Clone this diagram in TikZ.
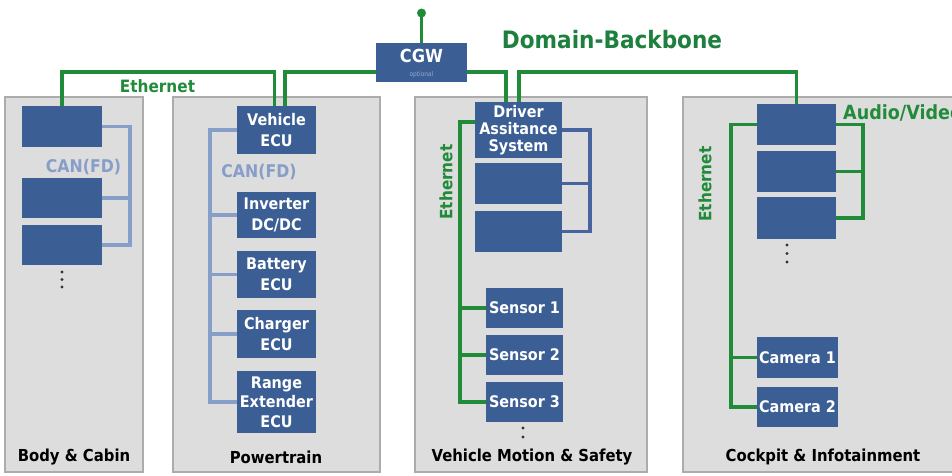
\documentclass[tikz,border=0pt]{standalone}
\usepackage{fontspec}
\setmainfont[FakeStretch=0.9]{DejaVu Sans}
\definecolor{ecublue}{RGB}{59,94,149}
\definecolor{ethgreen}{RGB}{34,139,58}
\definecolor{bbgreen}{RGB}{30,128,62}
\definecolor{canblue}{RGB}{135,158,200}
\definecolor{panelgray}{RGB}{221,221,221}
\definecolor{panelborder}{RGB}{172,172,172}
\definecolor{busblue}{RGB}{72,100,158}
\definecolor{optgray}{RGB}{150,170,205}
\begin{document}
\begin{tikzpicture}[x=1pt,y=-1pt,
  panel/.style={fill=panelgray, draw=panelborder, line width=1.2pt},
  ecu/.style={fill=ecublue, draw=none, inner sep=0pt, text=white,
    font=\fontsize{16}{20.5}\selectfont\bfseries, align=center},
  eth/.style={draw=ethgreen, line width=3.1pt},
  can/.style={draw=canblue, line width=3.1pt},
  bus/.style={draw=busblue, line width=3.1pt},
  plabel/.style={font=\fontsize{16.5}{19}\selectfont\bfseries, text=black, inner sep=0pt},
  glabel/.style={font=\fontsize{17}{20}\selectfont\bfseries, text=ethgreen, inner sep=0pt},
  clabel/.style={font=\fontsize{17.5}{20}\selectfont\bfseries, text=canblue, inner sep=0pt},
  dotmark/.style={fill=black!80}]
\path[use as bounding box, clip] (0,0) rectangle (952,475);
\fill[white] (0,0) rectangle (952,475);

% panels
\draw[panel] (5,97) rectangle (143,472);
\draw[panel] (173,97) rectangle (380,472);
\draw[panel] (415,97) rectangle (647,472);
\draw[panel] (683,97) rectangle (965,472);

\node[plabel] (l1) at (74,457) {Body \& Cabin};
\node[plabel] (l2) at (276,457) {Powertrain};
\node[plabel] (l3) at (532,457) {Vehicle Motion \& Safety};
\node[plabel] (l4) at (823,457) {Cockpit \& Infotainment};

% CGW and backbone
\coordinate (pin) at (421.5,13);
\coordinate (bb) at (0,72);
\node[ecu, minimum width=91pt, minimum height=39pt] (cgw) at (421.5,62.5) {};
\node[font=\fontsize{18}{20}\selectfont\bfseries, text=white, inner sep=0pt] (cgwt) at (421.5,56) {CGW};
\node[font=\fontsize{6.5}{8}\selectfont, text=optgray, inner sep=0pt] (cgwo) at (421.5,75) {optional};
\draw[eth] (cgw.north) -- (pin);
\fill[ethgreen] (pin) circle (4.5pt);
\node[font=\fontsize{24}{28}\selectfont\bfseries, text=bbgreen, inner sep=0pt] (dbb) at (612,40) {Domain-Backbone};

% Body & Cabin
\node[ecu, minimum width=80pt, minimum height=41pt] (b1) at (62,126.5) {};
\node[ecu, minimum width=80pt, minimum height=40pt] (b2) at (62,198) {};
\node[ecu, minimum width=80pt, minimum height=40pt] (b3) at (62,245) {};
\coordinate (cb1) at (130,0);
\draw[can] (b1.east) -| (b3.east -| cb1) -- (b3.east);
\draw[can] (b2.east) -- (b2.east -| cb1);
\node[clabel] (can1) at (83.5,167) {CAN(FD)};
\foreach \yy in {272,279.5,287} \fill[dotmark] (62,\yy) circle (1.7pt);

% Powertrain
\node[ecu, minimum width=79pt, minimum height=48pt] (vecu) at (276.5,130) {Vehicle\\ECU};
\node[ecu, minimum width=79pt, minimum height=46pt] (inv) at (276.5,215) {Inverter\\DC/DC};
\node[ecu, minimum width=79pt, minimum height=47pt] (bat) at (276.5,274.5) {Battery\\ECU};
\node[ecu, minimum width=79pt, minimum height=48pt] (chg) at (276.5,334) {Charger\\ECU};
\node[ecu, minimum width=79pt, minimum height=62pt, font=\fontsize{16}{19.5}\selectfont\bfseries] (rex) at (276.5,402) {Range\\Extender\\ECU};
\coordinate (cb2) at (210,0);
\draw[can] (vecu.west) -| (rex.west -| cb2) -- (rex.west);
\draw[can] (inv.west) -- (inv.west -| cb2);
\draw[can] (bat.west) -- (bat.west -| cb2);
\draw[can] (chg.west) -- (chg.west -| cb2);
\node[clabel] (can2) at (259,172) {CAN(FD)};

% Ethernet top
\draw[eth] (b1.north) -- (b1.north |- bb) -| ([xshift=-2pt]vecu.north);
\draw[eth] ([xshift=8.5pt]vecu.north) |- ([yshift=-9.5pt]cgw.west);
\node[glabel] (ethtop) at (157.5,86) {Ethernet};

% Vehicle Motion & Safety
\node[ecu, minimum width=87pt, minimum height=56pt, font=\fontsize{16}{17}\selectfont\bfseries] (das) at (518.5,130) {Driver\\Assitance\\System};
\node[ecu, minimum width=87pt, minimum height=41pt] (v2) at (518.5,183.5) {};
\node[ecu, minimum width=87pt, minimum height=41pt] (v3) at (518.5,231.5) {};
\coordinate (cb3) at (590,0);
\draw[bus] (das.east) -| (v3.east -| cb3) -- (v3.east);
\draw[bus] (v2.east) -- (v2.east -| cb3);
\node[ecu, minimum width=77pt, minimum height=40pt] (s1) at (524.5,308) {Sensor 1};
\node[ecu, minimum width=77pt, minimum height=40pt] (s2) at (524.5,355) {Sensor 2};
\node[ecu, minimum width=77pt, minimum height=40pt] (s3) at (524.5,402) {Sensor 3};
\coordinate (ce3) at (460,0);
\draw[eth] ([yshift=8pt]das.west) -| (s3.west -| ce3) -- (s3.west);
\draw[eth] (s1.west) -- (s1.west -| ce3);
\draw[eth] (s2.west) -- (s2.west -| ce3);
\node[glabel, rotate=90] (eth3) at (446,182) {Ethernet};
\foreach \yy in {428,437} \fill[dotmark] (523,\yy) circle (1.7pt);

% Cockpit
\node[ecu, minimum width=79pt, minimum height=41pt] (c1) at (796.5,124.5) {};
\node[ecu, minimum width=79pt, minimum height=41pt] (c2) at (796.5,171.5) {};
\node[ecu, minimum width=79pt, minimum height=42pt] (c3) at (796.5,218) {};
\coordinate (cb4) at (863,0);
\draw[eth] (c1.east) -| (c3.east -| cb4) -- (c3.east);
\draw[eth] (c2.east) -- (c2.east -| cb4);
\node[glabel, anchor=west, font=\fontsize{19.5}{22}\selectfont\bfseries] (av) at (843,113) {Audio/Video};
\foreach \yy in {245,253.5,262} \fill[dotmark] (787,\yy) circle (1.7pt);
\node[ecu, minimum width=81pt, minimum height=41pt] (cam1) at (797.5,357.5) {Camera 1};
\node[ecu, minimum width=81pt, minimum height=40pt] (cam2) at (797.5,407) {Camera 2};
\coordinate (ce4) at (731,0);
\draw[eth] (c1.west) -| (cam2.west -| ce4) -- (cam2.west);
\draw[eth] (cam1.west) -- (cam1.west -| ce4);
\node[glabel, rotate=90] (eth4) at (705,184) {Ethernet};

% backbone to right
\draw[eth] ([yshift=-9.5pt]cgw.east) -| ([xshift=-12.5pt]das.north);
\draw[eth] ([xshift=0.5pt]das.north) |- (bb -| c1.north) -- (c1.north);
\end{tikzpicture}
\end{document}
